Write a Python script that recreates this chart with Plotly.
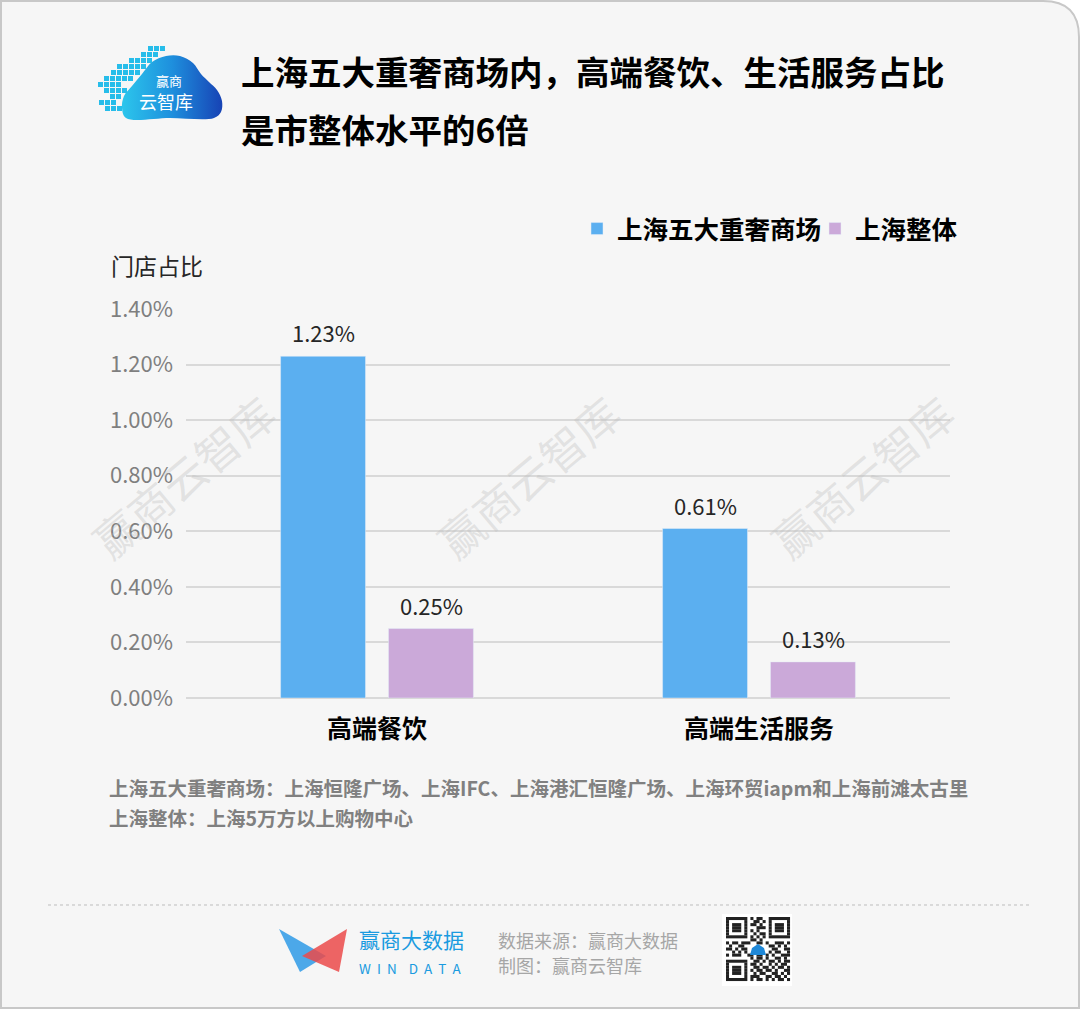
import plotly.graph_objects as go

W, H = 1080, 1009

categories = ["高端餐饮", "高端生活服务"]
luxury_malls = [0.0123, 0.0061]
shanghai_all = [0.0025, 0.0013]
series_names = ["上海五大重奢商场", "上海整体"]
y_ticks = [0.0, 0.002, 0.004, 0.006, 0.008, 0.010, 0.012, 0.014]

title_lines = ["上海五大重奢商场内，高端餐饮、生活服务占比", "是市整体水平的6倍"]
y_title = "门店占比"
notes = ["上海五大重奢商场：上海恒隆广场、上海IFC、上海港汇恒隆广场、上海环贸iapm和上海前滩太古里",
         "上海整体：上海5万方以上购物中心"]
watermark = "赢商云智库"

BLUE = "#5BAFF0"
PURPLE = "#CBA9D9"
FONT = "Noto Sans CJK SC"


def px(x):
    return x / W


def py(y):
    return 1 - y / H


fig = go.Figure()
fig.add_trace(go.Bar(x=categories, y=luxury_malls, name=series_names[0], marker_color=BLUE))
fig.add_trace(go.Bar(x=categories, y=shanghai_all, name=series_names[1], marker_color=PURPLE))

# decorative logo cloud drawn on a separate full-page pixel-space subplot
cloud_x = [126, 122, 124, 132, 142, 152, 166, 180, 193, 201, 209, 217, 222, 221, 214, 170, 126]
cloud_y = [118, 108, 96, 86, 74, 62, 56, 56, 63, 74, 82, 90, 101, 112, 118, 118, 118]
fig.add_trace(go.Scatter(
    x=cloud_x, y=cloud_y, xaxis="x2", yaxis="y2", mode="lines", line=dict(width=0, shape="spline"),
    fill="toself", fillgradient=dict(type="horizontal",
                                     colorscale=[[0, "#2CC6EC"], [0.5, "#1E8FDD"], [1, "#1743B5"]]),
    showlegend=False, hoverinfo="skip"))

shapes = []
annotations = []

# value labels above the bars (from the data arrays)
for values, shift in ((luxury_malls, -54), (shanghai_all, 54)):
    for cat, v in zip(categories, values):
        annotations.append(dict(text=f"{v:.2%}", x=cat, y=v, xref="x", yref="y", xshift=shift, yshift=6,
                                xanchor="center", yanchor="bottom", showarrow=False,
                                font=dict(size=22, color="#262626", family=FONT)))

# card background with rounded top-right corner
r = 36
shapes.append(dict(
    type="path", xref="paper", yref="paper", layer="below",
    path=(f"M {px(1)} {py(1)} L {px(W-1-r)} {py(1)} Q {px(W-1)} {py(1)} {px(W-1)} {py(1+r)} "
          f"L {px(W-1)} {py(H-1)} L {px(1)} {py(H-1)} Z"),
    fillcolor="#F6F6F6", line=dict(color="#C8C8C8", width=2)))

# separator
shapes.append(dict(type="line", xref="paper", yref="paper", x0=px(48), x1=px(1032), y0=py(905), y1=py(905),
                   line=dict(color="#BDBDBD", width=1, dash="dot")))

# title
for i, t in enumerate(title_lines):
    annotations.append(dict(text=f"<b>{t}</b>", x=px(239), y=py(70 + 58 * i), xref="paper", yref="paper",
                            xanchor="left", yanchor="middle", showarrow=False,
                            font=dict(size=33.5, color="#000000", family=FONT)))

# y-axis title
annotations.append(dict(text=y_title, x=px(109), y=py(265), xref="paper", yref="paper", xanchor="left",
                        yanchor="middle", showarrow=False, font=dict(size=23, color="#262626", family=FONT)))

# notes
for i, t in enumerate(notes):
    annotations.append(dict(text=f"<b>{t}</b>", x=px(107), y=py(787 + 30 * i), xref="paper", yref="paper",
                            xanchor="left", yanchor="middle", showarrow=False,
                            font=dict(size=19.5, color="#808080", family=FONT)))

# watermarks
for cx in (183, 528, 862):
    annotations.append(dict(text=watermark, x=px(cx), y=py(476), xref="paper", yref="paper", showarrow=False,
                            xanchor="center", yanchor="middle", textangle=-40,
                            font=dict(size=44, color="rgba(185,185,185,0.32)", family=FONT)))

# pixel squares of the top-left logo
pixel_rows = [(46, [148, 154, 160]), (52, [141, 147, 153]), (58, [129, 135, 141, 147]),
              (64, [117, 123, 129, 135, 141]), (70, [111, 117, 123, 129, 135]),
              (76, [104, 110, 116, 122, 128]), (82, [98, 104, 110, 116]),
              (88, [104, 110, 116, 122]), (94, [110, 116]), (100, [99, 105, 111]),
              (106, [105, 111, 117])]
for yy, xs in pixel_rows:
    for xx in xs:
        shapes.append(dict(type="rect", xref="paper", yref="paper", x0=px(xx), x1=px(xx + 5),
                           y0=py(yy + 5), y1=py(yy), fillcolor="#27BDEA", line=dict(width=0)))
annotations.append(dict(text="赢商", x=px(169), y=py(80), xref="paper", yref="paper", showarrow=False,
                        xanchor="center", yanchor="middle", font=dict(size=13, color="white", family=FONT)))
annotations.append(dict(text="云智库", x=px(166), y=py(101), xref="paper", yref="paper", showarrow=False,
                        xanchor="center", yanchor="middle", font=dict(size=18, color="white", family=FONT)))

# footer logo
shapes.append(dict(type="path", xref="paper", yref="paper",
                   path=f"M {px(279)} {py(929)} L {px(300)} {py(972)} L {px(326)} {py(956)} Z",
                   fillcolor="#3AA0E8", opacity=0.9, line=dict(width=0)))
shapes.append(dict(type="path", xref="paper", yref="paper",
                   path=f"M {px(347)} {py(929)} L {px(302)} {py(956)} L {px(339)} {py(972)} Z",
                   fillcolor="#EB4A4A", opacity=0.85, line=dict(width=0)))
annotations.append(dict(text="赢商大数据", x=px(357), y=py(956), xref="paper", yref="paper", xanchor="left",
                        yanchor="bottom", showarrow=False, font=dict(size=21, color="#1A9BE0", family=FONT)))
annotations.append(dict(text="W&nbsp;&nbsp;I&nbsp;&nbsp;N&nbsp;&nbsp;&nbsp;&nbsp;D&nbsp;&nbsp;A&nbsp;&nbsp;T&nbsp;&nbsp;A",
                        x=px(357), y=py(956), xref="paper", yref="paper",
                        xanchor="left", yanchor="top", showarrow=False,
                        font=dict(size=13.5, color="#1A9BE0", family=FONT)))
annotations.append(dict(text="数据来源：赢商大数据", x=px(496), y=py(940), xref="paper", yref="paper",
                        xanchor="left", yanchor="middle", showarrow=False,
                        font=dict(size=18, color="#A6A6A6", family=FONT)))
annotations.append(dict(text="制图：赢商云智库", x=px(496), y=py(965), xref="paper", yref="paper",
                        xanchor="left", yanchor="middle", showarrow=False,
                        font=dict(size=18, color="#A6A6A6", family=FONT)))

# QR-code decoration
qr = [
    "111111101011001111111",
    "100000100110101000001",
    "101110101101001011101",
    "101110100011101011101",
    "101110101010001011101",
    "100000100101101000001",
    "111111101010101111111",
    "000000001101000000000",
    "101101110011010011101",
    "010011000000001101010",
    "110101100000000110011",
    "001010100000001011001",
    "101110011011010100111",
    "000000001011010011010",
    "111111100110101101011",
    "100000101101001010110",
    "101110100110110101101",
    "101110101011011010011",
    "101110100101100110101",
    "100000101110011011010",
    "111111101011010101101",
]
shapes.append(dict(type="rect", xref="paper", yref="paper", x0=px(722), x1=px(792), y0=py(986), y1=py(914),
                   fillcolor="white", line=dict(width=0)))
q0x, q0y, m = 726, 917, 3.05
for ri, row in enumerate(qr):
    ci = 0
    while ci < len(row):
        if row[ci] == "1":
            cj = ci
            while cj < len(row) and row[cj] == "1":
                cj += 1
            shapes.append(dict(type="rect", xref="paper", yref="paper",
                               x0=px(q0x + ci * m), x1=px(q0x + cj * m),
                               y0=py(q0y + (ri + 1) * m), y1=py(q0y + ri * m),
                               fillcolor="#222222", line=dict(width=0)))
            ci = cj
        else:
            ci += 1
shapes.append(dict(type="path", xref="paper", yref="paper",
                   path=f"M {px(750)} {py(955)} L {px(766)} {py(955)} L {px(764)} {py(948)} L {px(758)} {py(944)} L {px(752)} {py(948)} Z",
                   fillcolor="#1E88D8", line=dict(width=0)))

fig.update_layout(
    width=W, height=H,
    margin=dict(l=0, r=0, t=0, b=0),
    paper_bgcolor="white", plot_bgcolor="rgba(0,0,0,0)",
    font=dict(family=FONT),
    barmode="group", bargap=0.435, bargroupgap=0.213,
    showlegend=True,
    legend=dict(orientation="h", x=px(1053), xanchor="right", y=py(229), yanchor="middle",
                font=dict(size=25.5, color="#000000", family=FONT, weight="bold"),
                bgcolor="rgba(0,0,0,0)", itemwidth=30, traceorder="normal", entrywidth=193),
    xaxis=dict(domain=[px(186), px(950)], showline=False, ticks="", showgrid=False, automargin=False,
               tickfont=dict(size=25, color="#000000", family=FONT, weight="bold"), ticklabelstandoff=14),
    yaxis=dict(domain=[py(698), py(309)], range=[0, 0.014], tickvals=y_ticks, tickformat=".2%",
               showgrid=True, gridcolor="#D9D9D9", gridwidth=1.5, zeroline=True, zerolinecolor="#D9D9D9",
               zerolinewidth=1.5, showline=False, ticks="", automargin=False,
               tickfont=dict(size=22, color="#7F7F7F", family=FONT), ticklabelstandoff=12),
    xaxis2=dict(domain=[0, 1], range=[0, W], visible=False, anchor="y2", fixedrange=True),
    yaxis2=dict(domain=[0, 1], range=[H, 0], visible=False, anchor="x2", fixedrange=True),
    shapes=shapes, annotations=annotations,
)

fig.write_html("out.html", config={"displayModeBar": False},
               post_script="document.body.style.margin='0';document.body.style.overflow='hidden';")
